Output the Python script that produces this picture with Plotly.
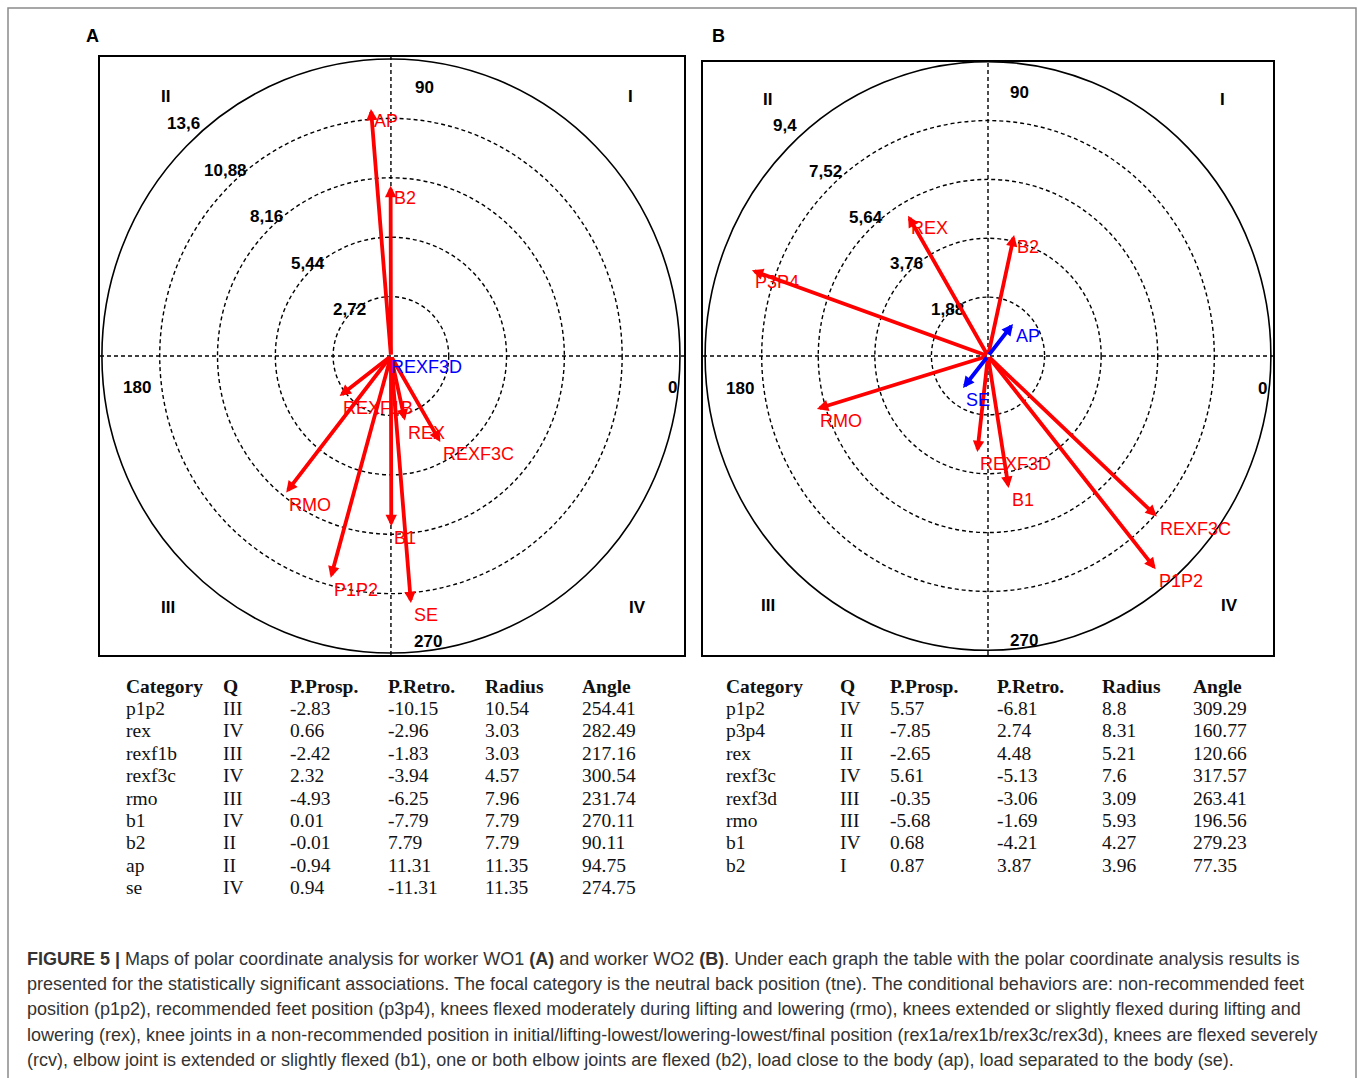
import math
import plotly.graph_objects as go

W, H = 1358, 1078

# ---------------- data: panel A (worker WO1) ----------------
a_category = ["p1p2", "rex", "rexf1b", "rexf3c", "rmo", "b1", "b2", "ap", "se"]
a_quadrant = ["III", "IV", "III", "IV", "III", "IV", "II", "II", "IV"]
a_prosp = [-2.83, 0.66, -2.42, 2.32, -4.93, 0.01, -0.01, -0.94, 0.94]
a_retro = [-10.15, -2.96, -1.83, -3.94, -6.25, -7.79, 7.79, 11.31, -11.31]
a_radius = [10.54, 3.03, 3.03, 4.57, 7.96, 7.79, 7.79, 11.35, 11.35]
a_angle = [254.41, 282.49, 217.16, 300.54, 231.74, 270.11, 90.11, 94.75, 274.75]
a_rings = [2.72, 5.44, 8.16, 10.88, 13.6]
a_ring_labels = ["2,72", "5,44", "8,16", "10,88", "13,6"]
a_blue_names = ["REXF3D"]
a_blue_radius = [0.16]
a_blue_angle = [160.0]

# ---------------- data: panel B (worker WO2) ----------------
b_category = ["p1p2", "p3p4", "rex", "rexf3c", "rexf3d", "rmo", "b1", "b2"]
b_quadrant = ["IV", "II", "II", "IV", "III", "III", "IV", "I"]
b_prosp = [5.57, -7.85, -2.65, 5.61, -0.35, -5.68, 0.68, 0.87]
b_retro = [-6.81, 2.74, 4.48, -5.13, -3.06, -1.69, -4.21, 3.87]
b_radius = [8.8, 8.31, 5.21, 7.6, 3.09, 5.93, 4.27, 3.96]
b_angle = [309.29, 160.77, 120.66, 317.57, 263.41, 196.56, 279.23, 77.35]
b_rings = [1.88, 3.76, 5.64, 7.52, 9.4]
b_ring_labels = ["1,88", "3,76", "5,64", "7,52", "9,4"]
b_blue_names = ["AP", "SE"]
b_blue_radius = [1.32, 1.32]
b_blue_angle = [51.0, 231.0]

table_header = ["Category", "Q", "P.Prosp.", "P.Retro.", "Radius", "Angle"]

caption_lines = [
    "<b>FIGURE 5 |</b> Maps of polar coordinate analysis for worker WO1 <b>(A)</b> and worker WO2 <b>(B)</b>. "
    "Under each graph the table with the polar coordinate analysis results is",
    "presented for the statistically significant associations. The focal category is the neutral back "
    "position (tne). The conditional behaviors are: non-recommended feet",
    "position (p1p2), recommended feet position (p3p4), knees flexed moderately during lifting and "
    "lowering (rmo), knees extended or slightly flexed during lifting and",
    "lowering (rex), knee joints in a non-recommended position in initial/lifting-lowest/lowering-lowest/final "
    "position (rex1a/rex1b/rex3c/rex3d), knees are flexed severely",
    "(rcv), elbow joint is extended or slightly flexed (b1), one or both elbow joints are flexed (b2), "
    "load close to the body (ap), load separated to the body (se).",
]

# ---------------- layout helpers ----------------
def px(x):
    return x / W


def py(y):
    return 1 - y / H


SANS = "Liberation Sans, Arial, sans-serif"
SERIF = "Liberation Serif, Times New Roman, serif"
RED = "#ff0000"
BLUE = "#0000ff"

panels = [
    dict(name="A", xa="x", ya="y", box=(100, 684, 57, 655), xr=(-13.69, 13.79), yr=(-13.69, 13.69),
         cat=a_category, rad=a_radius, ang=a_angle, rings=a_rings, ring_labels=a_ring_labels,
         blue_names=a_blue_names, blue_rad=a_blue_radius, blue_ang=a_blue_angle,
         letter=(92, 36),
         ticks={"90": (424, 88), "0": (672, 387), "180": (137, 387), "270": (428, 642)},
         quads={"II": (165, 97), "I": (630, 97), "III": (168, 607), "IV": (637, 607)}),
    dict(name="B", xa="x2", ya="y2", box=(703, 1273, 62, 655), xr=(-9.47, 9.47), yr=(-9.55, 9.39),
         cat=b_category, rad=b_radius, ang=b_angle, rings=b_rings, ring_labels=b_ring_labels,
         blue_names=b_blue_names, blue_rad=b_blue_radius, blue_ang=b_blue_angle,
         letter=(718, 36),
         ticks={"90": (1019, 92), "0": (1262, 388), "180": (740, 388), "270": (1024, 640)},
         quads={"II": (767, 100), "I": (1222, 100), "III": (768, 605), "IV": (1229, 605)}),
]

fig = go.Figure()
shapes = []
annotations = []
layout_axes = {}


def label(x, y, text, size=17, family=SANS, color="black", xanchor="center", yanchor="middle",
          xref="paper", yref="paper", **kw):
    d = dict(x=x, y=y, xref=xref, yref=yref, text=text, showarrow=False, xanchor=xanchor,
             yanchor=yanchor, font=dict(family=family, size=size, color=color))
    d.update(kw)
    annotations.append(d)


for i, p in enumerate(panels):
    xa, ya = p["xa"], p["ya"]
    x0, x1, y0, y1 = p["box"]
    xkey = "xaxis" if i == 0 else "xaxis2"
    ykey = "yaxis" if i == 0 else "yaxis2"
    layout_axes[xkey] = dict(domain=[px(x0), px(x1)], range=list(p["xr"]), showgrid=False, zeroline=False,
                             showticklabels=False, ticks="", showline=True, mirror=True,
                             linecolor="black", linewidth=2, anchor=ya, fixedrange=True)
    layout_axes[ykey] = dict(domain=[py(y1), py(y0)], range=list(p["yr"]), showgrid=False, zeroline=False,
                             showticklabels=False, ticks="", showline=True, mirror=True,
                             linecolor="black", linewidth=2, anchor=xa, fixedrange=True)
    fig.add_trace(go.Scatter(x=[0], y=[0], xaxis=xa, yaxis=ya, mode="markers",
                             marker=dict(size=1, color="rgba(0,0,0,0)"), showlegend=False,
                             hoverinfo="skip"))

    # rings
    for k, r in enumerate(p["rings"]):
        outer = k == len(p["rings"]) - 1
        shapes.append(dict(type="circle", xref=xa, yref=ya, x0=-r, x1=r, y0=-r, y1=r,
                           line=dict(color="black", width=1.6 if outer else 1.4,
                                     dash="solid" if outer else "4px,3px"), layer="below"))
        ang = math.radians(132.5)
        rr = r * 1.06
        label(rr * math.cos(ang), rr * math.sin(ang), "<b>%s</b>" % p["ring_labels"][k],
              xref=xa, yref=ya)
    # cross hair
    shapes.append(dict(type="line", xref=xa, yref=ya + " domain", x0=0, x1=0, y0=0, y1=1,
                       line=dict(color="black", width=1.4, dash="4px,3px"), layer="below"))
    shapes.append(dict(type="line", xref=xa + " domain", yref=ya, x0=0, x1=1, y0=0, y1=0,
                       line=dict(color="black", width=1.4, dash="4px,3px"), layer="below"))

    for t, (tx, ty) in p["ticks"].items():
        label(px(tx), py(ty), "<b>%s</b>" % t)
    for q, (qx, qy) in p["quads"].items():
        label(px(qx), py(qy), "<b>%s</b>" % q)
    lx, ly = p["letter"]
    label(px(lx), py(ly), "<b>%s</b>" % p["name"], size=18)

    # vectors
    vecs = []
    for c, r, a in zip(p["cat"], p["rad"], p["ang"]):
        vecs.append((c.upper(), r, a, RED))
    for c, r, a in zip(p["blue_names"], p["blue_rad"], p["blue_ang"]):
        vecs.append((c, r, a, BLUE))
    for name, r, a, col in vecs:
        tx = r * math.cos(math.radians(a))
        ty = r * math.sin(math.radians(a))
        annotations.append(dict(x=tx, y=ty, ax=0, ay=0, xref=xa, yref=ya, axref=xa, ayref=ya,
                                text="", showarrow=True, arrowhead=2, arrowsize=0.6,
                                arrowwidth=3.8, arrowcolor=col, standoff=0))
        label(tx, ty, name, size=18, color=col, xref=xa, yref=ya, xanchor="left", yanchor="top",
              xshift=1, yshift=0)

# ---------------- tables ----------------
tables = [
    dict(cols=[124, 221, 288, 386, 483, 580],
         rows=[a_category, a_quadrant, a_prosp, a_retro, a_radius, a_angle]),
    dict(cols=[724, 838, 888, 995, 1100, 1191],
         rows=[b_category, b_quadrant, b_prosp, b_retro, b_radius, b_angle]),
]
header_y = 686
row_step = 22.4
for t in tables:
    for j, head in enumerate(table_header):
        label(px(t["cols"][j]), py(header_y), "<b>%s</b>" % head, size=19.5, family=SERIF,
              color="#111111", xanchor="left")
    n = len(t["rows"][0])
    for k in range(n):
        for j in range(6):
            label(px(t["cols"][j]), py(header_y + row_step * (k + 1)), str(t["rows"][j][k]),
                  size=19.5, family=SERIF, color="#111111", xanchor="left")

# ---------------- caption ----------------
for k, line in enumerate(caption_lines):
    label(px(25), py(959 + 25.2 * k), line, size=18, color="#333333", xanchor="left")

# outer frame
shapes.append(dict(type="rect", xref="paper", yref="paper", x0=px(8), x1=px(1356), y0=py(1100), y1=py(8),
                   line=dict(color="#8a8a8a", width=1.5), layer="below"))

fig.update_layout(width=W, height=H, margin=dict(l=0, r=0, t=0, b=0), paper_bgcolor="white",
                  plot_bgcolor="white", showlegend=False, shapes=shapes, annotations=annotations,
                  **layout_axes)

fig.write_html("out.html", config={"displayModeBar": False, "staticPlot": True},
               post_script="document.body.style.margin='0';document.body.style.overflow='hidden';")
